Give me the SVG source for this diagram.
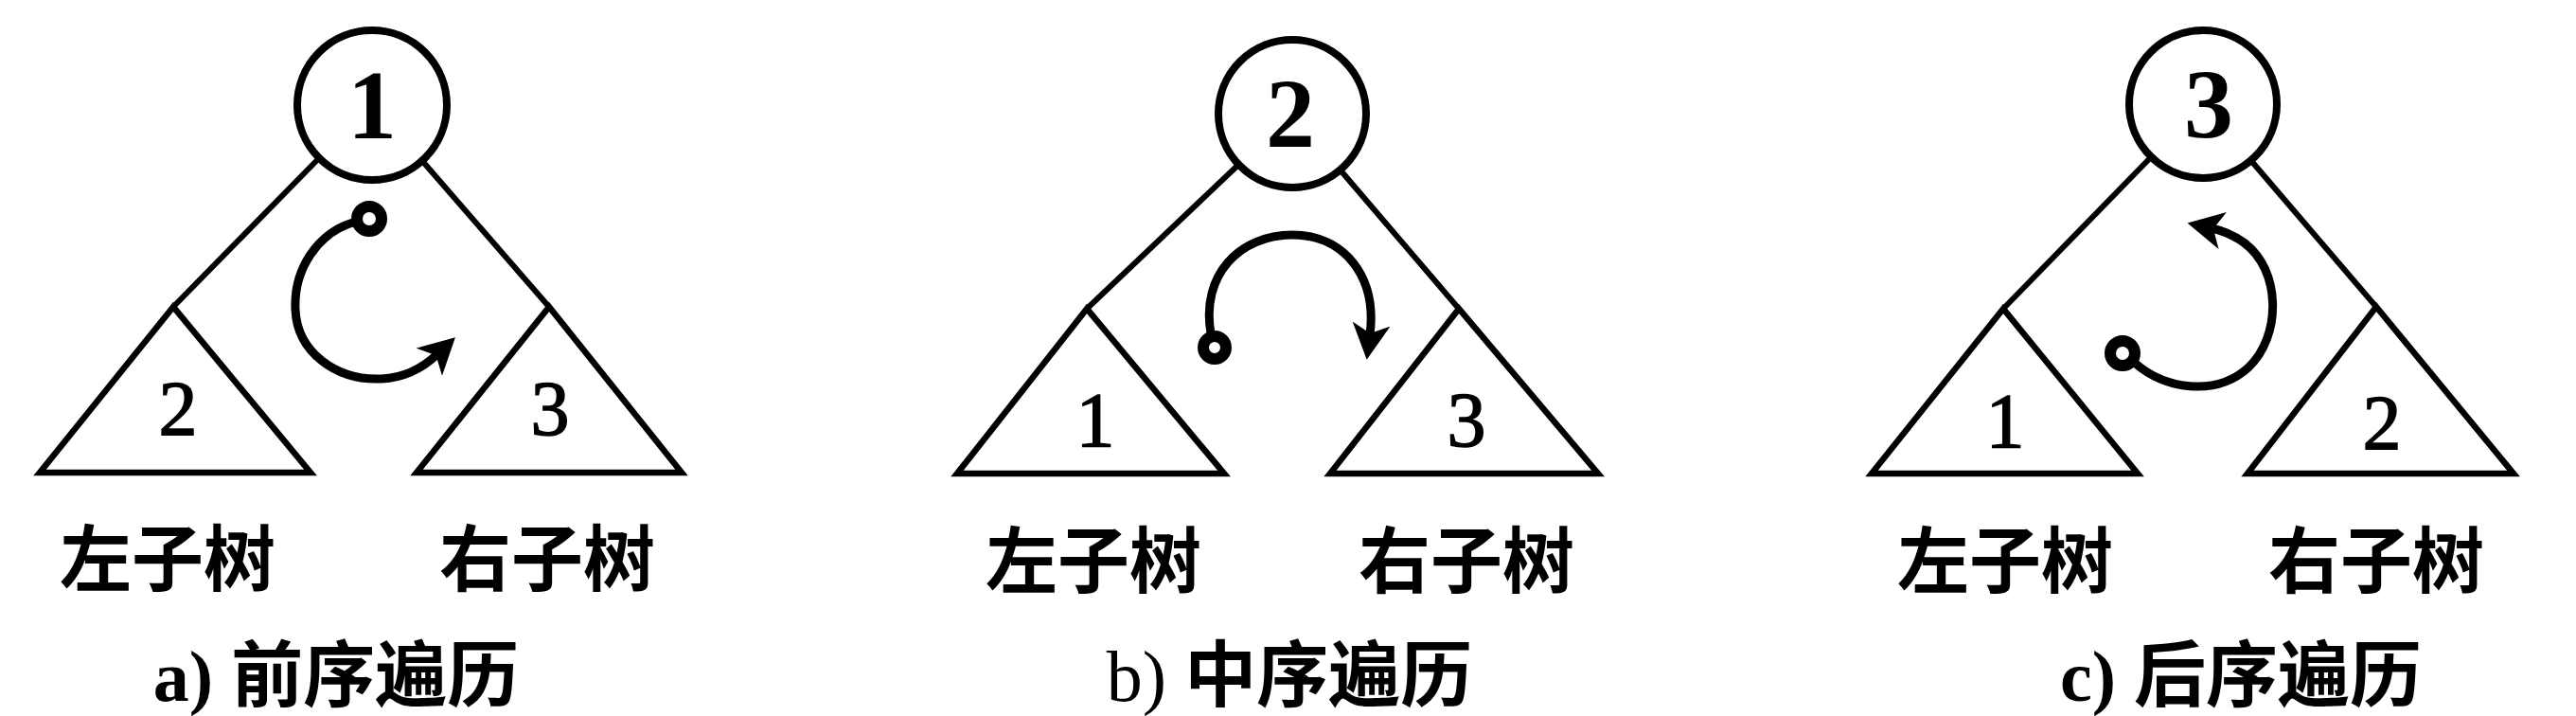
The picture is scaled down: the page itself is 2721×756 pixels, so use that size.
<svg xmlns="http://www.w3.org/2000/svg" width="2721" height="756" viewBox="0 0 2721 756">
  <style>
    .root { fill: #ffffff; stroke: #000000; stroke-width: 8; }
    .tri { fill: #ffffff; stroke: #000000; stroke-width: 6.5; stroke-linejoin: miter; }
    .edge { stroke: #000000; stroke-width: 6; fill: none; }
    .arc { stroke: #000000; stroke-width: 9; fill: none; marker-end: url(#barb); }
    .dot { fill: #ffffff; stroke: #000000; stroke-width: 12; }
    .rootnum { font-family: "Liberation Serif", "DejaVu Serif", serif; font-weight: bold; font-size: 104px; text-anchor: middle; fill: #000; }
    .subnum { font-family: "Liberation Serif", "DejaVu Serif", serif; font-weight: normal; font-size: 82px; text-anchor: middle; fill: #000; stroke: #000; stroke-width: 1.5; }
    .sub { font-family: "Liberation Serif", "Noto Sans CJK SC", sans-serif; font-weight: bold; font-size: 76px; text-anchor: middle; fill: #000; }
    .cap { font-family: "Liberation Serif", "Noto Sans CJK SC", serif; font-weight: bold; font-size: 76px; text-anchor: middle; fill: #000; }
  </style>
  <defs>
    <marker id="barb" markerUnits="userSpaceOnUse" viewBox="0 0 40 40" markerWidth="40" markerHeight="40" refX="12" refY="20" orient="auto">
      <path d="M 0 0 L 38 20 L 0 40 L 10 20 Z" fill="#000"/>
    </marker>
  </defs>
  <rect x="0" y="0" width="2721" height="756" fill="#ffffff"/>

  <!-- connectors -->
  <g id="connectors">
    <line class="edge" x1="336" y1="168" x2="183" y2="324"/>
    <line class="edge" x1="447" y1="171" x2="580" y2="324"/>
    <line class="edge" x1="1307" y1="175" x2="1148" y2="326"/>
    <line class="edge" x1="1417" y1="181" x2="1541" y2="326"/>
    <line class="edge" x1="2271" y1="167" x2="2116" y2="326"/>
    <line class="edge" x1="2379" y1="171" x2="2510" y2="324"/>
    <path class="arc" d="M 376 234 C 335 245, 310 285, 312 327 C 314 372, 355 402, 403 400 C 425 399, 445 390, 462 374"/>
    <path class="arc" d="M 1279 352 C 1268 290, 1310 248, 1365 248 C 1420 248, 1455 292, 1447 354"/>
    <path class="arc" d="M 2256 384 C 2285 410, 2340 420, 2375 388 C 2410 355, 2410 285, 2370 256 C 2360 249, 2350 244, 2336 241"/>
  </g>

  <!-- panel a -->
  <g id="a-root">
    <circle class="root" cx="393" cy="111" r="79"/>
    <text class="rootnum" x="393" y="146">1</text>
  </g>
  <g id="a-left">
    <polygon class="tri" points="183,324 42,499 328,499"/>
    <text class="subnum" x="188" y="459">2</text>
  </g>
  <g id="a-right">
    <polygon class="tri" points="580,324 440,499 720,499"/>
    <text class="subnum" x="581" y="459">3</text>
  </g>
  <g id="a-start"><circle class="dot" cx="390" cy="231" r="13"/></g>
  <g id="a-labels">
    <text class="sub" x="177" y="618">左子树</text>
    <text class="sub" x="578" y="618">右子树</text>
    <text class="cap" x="355" y="740">a) 前序遍历</text>
  </g>

  <!-- panel b -->
  <g id="b-root">
    <circle class="root" cx="1365" cy="120" r="78"/>
    <text class="rootnum" x="1363" y="155">2</text>
  </g>
  <g id="b-left">
    <polygon class="tri" points="1148,326 1011,500 1293,500"/>
    <text class="subnum" x="1157" y="471">1</text>
  </g>
  <g id="b-right">
    <polygon class="tri" points="1541,326 1405,500 1688,500"/>
    <text class="subnum" x="1549" y="471">3</text>
  </g>
  <g id="b-start"><circle class="dot" cx="1283" cy="367" r="12" stroke-width="16"/></g>
  <g id="b-labels">
    <text class="sub" x="1155" y="620">左子树</text>
    <text class="sub" x="1549" y="620">右子树</text>
    <text class="cap" x="1362" y="740"><tspan font-weight="normal">b) </tspan>中序遍历</text>
  </g>

  <!-- panel c -->
  <g id="c-root">
    <circle class="root" cx="2327" cy="110" r="78"/>
    <text class="rootnum" x="2333" y="145">3</text>
  </g>
  <g id="c-left">
    <polygon class="tri" points="2116,326 1977,500 2258,500"/>
    <text class="subnum" x="2118" y="472">1</text>
  </g>
  <g id="c-right">
    <polygon class="tri" points="2510,324 2374,500 2655,500"/>
    <text class="subnum" x="2516" y="474">2</text>
  </g>
  <g id="c-start"><circle class="dot" cx="2242" cy="373" r="13" stroke-width="14"/></g>
  <g id="c-labels">
    <text class="sub" x="2118" y="620">左子树</text>
    <text class="sub" x="2510" y="620">右子树</text>
    <text class="cap" x="2367" y="740">c) 后序遍历</text>
  </g>
</svg>
